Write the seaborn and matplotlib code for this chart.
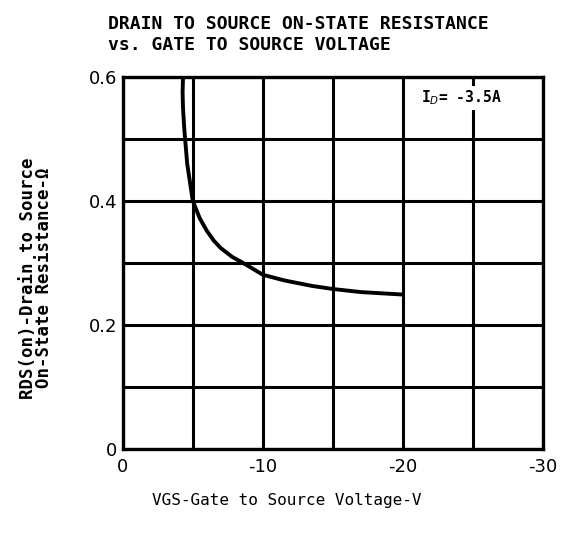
import numpy as np
import pandas as pd
import matplotlib.pyplot as plt
import seaborn as sns

# curve
vgs = [-4.30, -4.27, -4.30, -4.38, -4.45, -4.60, -4.80, -5.00, -5.50, -6.00,
       -6.50, -7.00, -7.80, -8.60, -10.0, -11.5, -13.5, -15.0, -17.0, -20.0]
rds = [0.600, 0.575, 0.550, 0.520, 0.500, 0.460, 0.430, 0.400, 0.372, 0.352,
       0.336, 0.324, 0.310, 0.300, 0.281, 0.272, 0.263, 0.258, 0.253, 0.249]

x_ticks = [0, -10, -20, -30]
x_labels = ['0', '-10', '-20', '-30']
y_ticks = [0, 0.2, 0.4, 0.6]
y_labels = ['0', '0.2', '0.4', '0.6']

sns.set_style('white')
plt.rcParams['font.family'] = ['DejaVu Sans']
plt.rcParams.update({'text.color': 'black', 'axes.labelcolor': 'black',
                     'xtick.color': 'black', 'ytick.color': 'black'})

data = pd.DataFrame({'VGS': vgs, 'RDS': rds})

fig = plt.figure(figsize=(5.66, 5.4), dpi=100)
ax = fig.add_axes([0.217, 0.169, 0.742, 0.688])

sns.lineplot(data=data, x='VGS', y='RDS', ax=ax, color='black', linewidth=2.8,
             sort=False, estimator=None, zorder=3)

ax.set_xlim(0, -30)
ax.set_ylim(0, 0.6)

ax.set_xticks(np.arange(0, -30.1, -5), minor=True)
ax.set_yticks(np.arange(0, 0.61, 0.1), minor=True)
ax.set_xticks(x_ticks)
ax.set_xticklabels(x_labels)
ax.set_yticks(y_ticks)
ax.set_yticklabels(y_labels)
ax.grid(which='both', color='black', linewidth=2.2)
ax.tick_params(which='both', length=0, labelsize=13, pad=7)
ax.tick_params(axis='y', pad=4)

for s in ax.spines.values():
    s.set_color('black')
    s.set_linewidth(2.4)

ax.set_xlabel('VGS-Gate to Source Voltage-V', family='DejaVu Sans Mono',
              fontsize=11.5)
ax.xaxis.set_label_coords(0.39, -0.12)
ax.set_ylabel('RDS(on)-Drain to Source\nOn-State Resistance-Ω',
              family='DejaVu Sans Mono', fontweight='bold', fontsize=12.5,
              linespacing=0.85)
ax.yaxis.set_label_coords(-0.166, 0.46)

fig.text(0.19, 0.9, 'DRAIN TO SOURCE ON-STATE RESISTANCE\nvs. GATE TO SOURCE VOLTAGE',
         family='DejaVu Sans Mono', fontweight='bold', fontsize=13,
         ha='left', va='bottom', linespacing=1.2)

ax.text(-21.3, 0.567, 'I$_D$= -3.5A', family='DejaVu Sans Mono', fontsize=10.5,
        fontweight='bold', ha='left', va='center', zorder=4,
        bbox=dict(facecolor='white', edgecolor='none', pad=2))

fig.savefig('out.png', dpi=100)
